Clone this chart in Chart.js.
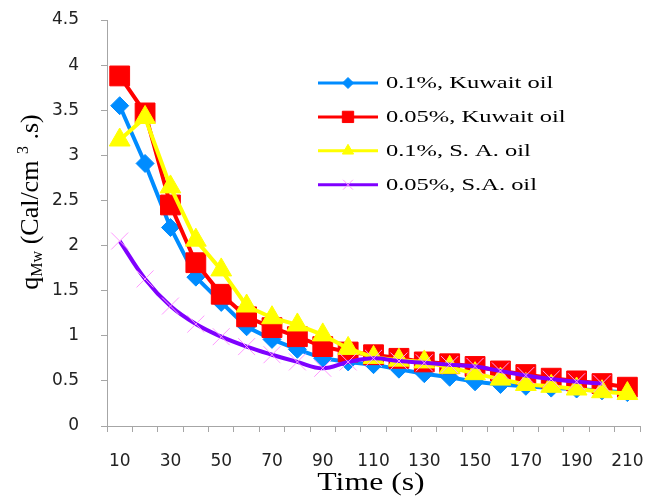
<!DOCTYPE html>
<html><head><meta charset="utf-8">
<script src="https://cdn.jsdelivr.net/npm/chart.js@4"></script>
<style>html,body{margin:0;padding:0;background:#fff;}canvas{display:block;}</style>
</head><body>
<canvas id="c" width="663" height="497"></canvas>
<script>
// ---- data ----
const categories = [10,20,30,40,50,60,70,80,90,100,110,120,130,140,150,160,170,180,190,200,210];
const xTickLabels = [10,30,50,70,90,110,130,150,170,190,210];
const seriesNames = ['0.1%, Kuwait oil','0.05%, Kuwait oil','0.1%, S. A. oil','0.05%, S.A. oil'];
const kuwait01  = [3.55,2.91,2.20,1.65,1.37,1.10,0.96,0.85,0.75,0.71,0.68,0.63,0.58,0.54,0.49,0.46,0.44,0.42,0.41,0.39,0.37];
const kuwait005 = [3.88,3.47,2.45,1.81,1.46,1.21,1.09,0.99,0.88,0.82,0.79,0.75,0.71,0.69,0.66,0.61,0.57,0.53,0.50,0.47,0.43];
const sa01      = [3.17,3.42,2.65,2.06,1.73,1.33,1.20,1.12,1.01,0.86,0.76,0.73,0.71,0.65,0.58,0.52,0.46,0.44,0.41,0.38,0.36];
const sa005     = [2.05,1.63,1.33,1.13,0.99,0.88,0.79,0.71,0.64,0.71,0.75,0.72,0.70,0.68,0.66,0.61,0.56,0.52,0.49,0.47,null];
const yMin = 0, yMax = 4.5, yStep = 0.5;

// ---- styles ----
const BLUE='#008CFF', RED='#FF0000', YELLOW='#FFFF00', PURPLE='#7F00FF', PINK='#FF99FF';
const legendMarker = [
  {style:'rectRot', r:5.5, fill:BLUE, stroke:BLUE, line:BLUE},
  {style:'rect', r:8, fill:RED, stroke:RED, line:RED},
  {style:'triangle', r:6.5, fill:YELLOW, stroke:YELLOW, line:YELLOW},
  {style:'crossRot', r:7, fill:PINK, stroke:PINK, line:PURPLE}
];

const textPlugin = {
  id:'texts',
  afterDraw(chart){
    const ctx = chart.ctx;
    // legend
    seriesNames.forEach((name,i)=>{
      const y = 83 + i*33.9;
      const m = legendMarker[i];
      ctx.save();
      ctx.strokeStyle = m.line; ctx.lineWidth = 3;
      ctx.beginPath(); ctx.moveTo(318,y); ctx.lineTo(378,y); ctx.stroke();
      ctx.fillStyle = m.fill; ctx.strokeStyle = m.stroke; ctx.lineWidth = 1;
      Chart.helpers.drawPoint(ctx,{pointStyle:m.style,radius:m.r,rotation:0,borderWidth:1},348,y);
      ctx.restore();
      ctx.save();
      ctx.font = '17px "Liberation Serif"';
      ctx.fillStyle = '#000';
      ctx.textBaseline = 'middle';
      ctx.translate(386,y+1);
      ctx.scale(1.44,1);
      ctx.fillText(name,0,0);
      ctx.restore();
    });
    // x title
    ctx.save();
    ctx.font = '25px "Liberation Serif"';
    ctx.fillStyle = '#000';
    ctx.textAlign = 'center';
    ctx.textBaseline = 'alphabetic';
    ctx.translate(371,490);
    ctx.scale(1.27,1);
    ctx.fillText('Time (s)',0,0);
    ctx.restore();
    // y title with sub/superscripts
    ctx.save();
    ctx.fillStyle = '#000';
    ctx.textBaseline = 'alphabetic';
    ctx.translate(38,202);
    ctx.rotate(-Math.PI/2);
    const big = '26px "Liberation Serif"', small = '16px "Liberation Serif"';
    const parts = [
      {t:'q', f:big, dy:0},
      {t:'Mw', f:small, dy:4},
      {t:' (Cal/cm ', f:big, dy:0},
      {t:'3', f:small, dy:-10},
      {t:' .s)', f:big, dy:0}
    ];
    let total = 0;
    parts.forEach(p=>{ctx.font=p.f; p.w=ctx.measureText(p.t).width; total+=p.w;});
    let x = -total/2;
    parts.forEach(p=>{ctx.font=p.f; ctx.fillText(p.t,x,p.dy); x+=p.w;});
    ctx.restore();
  }
};

const axisGray = '#A6A6A6';
new Chart(document.getElementById('c'),{
  type:'line',
  data:{
    labels:categories,
    datasets:[
      {label:seriesNames[0],data:kuwait01,borderColor:BLUE,backgroundColor:BLUE,borderWidth:4,
       pointStyle:'rectRot',pointRadius:9,pointBorderWidth:1,pointBackgroundColor:BLUE,pointBorderColor:BLUE,tension:0,order:4},
      {label:seriesNames[1],data:kuwait005,borderColor:RED,backgroundColor:RED,borderWidth:4,
       pointStyle:'rect',pointRadius:14,pointBorderWidth:1,pointBackgroundColor:RED,pointBorderColor:RED,tension:0,order:3},
      {label:seriesNames[2],data:sa01,borderColor:YELLOW,backgroundColor:YELLOW,borderWidth:4,
       pointStyle:'triangle',pointRadius:12,pointBorderWidth:1,pointBackgroundColor:YELLOW,pointBorderColor:YELLOW,tension:0,order:2},
      {label:seriesNames[3],data:sa005,borderColor:PURPLE,backgroundColor:PURPLE,borderWidth:4,
       pointStyle:'crossRot',pointRadius:12,pointBorderWidth:1,pointBackgroundColor:PINK,pointBorderColor:PINK,tension:0.4,order:1}
    ]
  },
  options:{
    responsive:false, animation:false, devicePixelRatio:1,
    layout:{padding:{left:0,right:17,top:20,bottom:0}},
    plugins:{legend:{display:false},tooltip:{enabled:false}},
    scales:{
      x:{
        type:'category', offset:true,
        grid:{offset:true,drawOnChartArea:false,drawTicks:true,tickLength:6,color:axisGray},
        border:{color:axisGray,width:1},
        ticks:{autoSkip:false,maxRotation:0,minRotation:0,padding:19,color:'#222',
          font:{family:'"DejaVu Sans"',size:17},
          callback:function(v,i){const c=categories[i];return xTickLabels.includes(c)?String(c):'';}},
        afterFit:(s)=>{s.height=71;}
      },
      y:{
        min:yMin,max:yMax,
        grid:{drawOnChartArea:false,drawTicks:true,tickLength:6,color:axisGray},
        border:{color:axisGray,width:1},
        ticks:{stepSize:yStep,padding:22,color:'#222',font:{family:'"DejaVu Sans"',size:17},
          callback:(v)=>String(Math.round(v*10)/10)},
        afterFit:(s)=>{s.width=107; s.paddingTop=0; s.paddingBottom=0;}
      }
    }
  },
  plugins:[textPlugin]
});
</script>
</body></html>
